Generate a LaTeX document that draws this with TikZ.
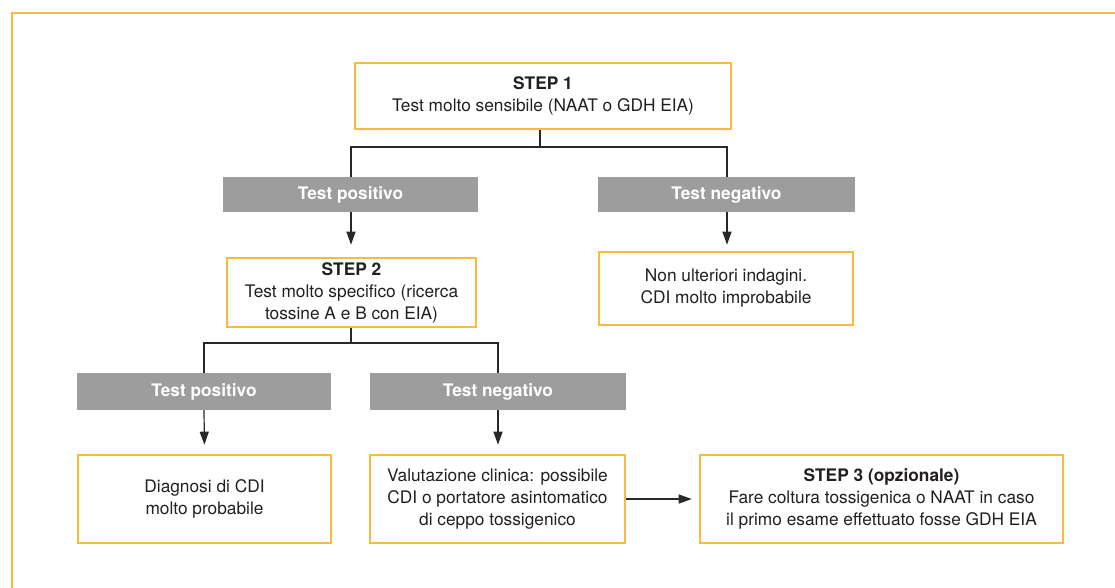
\documentclass[tikz,border=0pt]{standalone}
\usepackage{fontspec}
\setmainfont{TeX Gyre Heros}
\usetikzlibrary{arrows.meta}
\definecolor{orng}{RGB}{251,186,60}
\definecolor{gbox}{RGB}{157,157,157}
\definecolor{txt}{RGB}{35,31,32}
\definecolor{lin}{RGB}{40,40,40}
\tikzset{
  obox/.style={draw=orng, line width=2.6pt, fill=white, text=txt, align=center,
    font=\fontsize{17.3}{22}\selectfont, inner sep=0pt},
  gray/.style={fill=gbox, text=white, align=center,
    font=\fontsize{17.3}{20}\selectfont\bfseries, inner sep=0pt},
  conn/.style={draw=lin, line width=1.2pt},
  arr/.style={conn, -{Triangle[length=13pt,width=9pt]}}
}
\begin{document}
\begin{tikzpicture}[x=1pt,y=-1pt]
\useasboundingbox (0,0) rectangle (1115,587);
\draw[orng, line width=2.6pt] (1115,13) -- (12,13) -- (12,588);
% nodes
\node[obox, minimum width=376pt, minimum height=66pt] (s1) at (543,96) {\textbf{STEP 1}\\Test molto sensibile (NAAT o GDH EIA)};
\node[gray, minimum width=255pt, minimum height=35pt] (g1p) at (350.5,194.5) {Test positivo};
\node[gray, minimum width=257pt, minimum height=35pt] (g1n) at (726.5,194.5) {Test negativo};
\node[obox, minimum width=249pt, minimum height=69pt] (s2) at (351.5,292.5) {\textbf{STEP 2}\\Test molto specifico (ricerca\\tossine A e B con EIA)};
\node[obox, minimum width=254pt, minimum height=73pt] (non) at (726,288.5) {Non ulteriori indagini.\\CDI molto improbabile};
\node[gray, minimum width=254pt, minimum height=37pt] (g2p) at (204,391.5) {Test positivo};
\node[gray, minimum width=256pt, minimum height=37pt] (g2n) at (498,391.5) {Test negativo};
\node[obox, minimum width=253pt, minimum height=88pt] (diag) at (204.5,499) {Diagnosi di CDI\\molto probabile};
\node[obox, minimum width=255pt, minimum height=88pt] (val) at (497.5,499) {Valutazione clinica: possibile\\CDI o portatore asintomatico\\di ceppo tossigenico};
\node[obox, minimum width=363pt, minimum height=88pt] (s3) at (881.5,499) {\textbf{STEP 3 (opzionale)}\\Fare coltura tossigenica o NAAT in caso\\il primo esame effettuato fosse GDH EIA};
% connectors
\coordinate (j1) at (540,147);
\coordinate (j2) at (351,343);
\draw[conn] (s1.south -| j1) -- (j1);
\draw[conn] (g1p.north -| 351,0) |- (j1) -| (g1n.north -| 727,0);
\draw[conn] (s2.south -| j2) -- (j2);
\draw[conn] (g2p.north) |- (j2) -| (g2n.north);
\draw[arr, shorten >=12pt] (g1p.south -| 351,0) -- (s2.north -| 351,0);
\draw[arr, shorten >=6pt] (g1n.south -| 727,0) -- (non.north -| 727,0);
\draw[arr, shorten >=9pt] (g2p.south) -- (diag.north);
\draw[arr, shorten >=9pt] (g2n.south) -- (val.north -| g2n.south);
\draw[arr, shorten >=7pt] (val.east) -- (s3.west);
\end{tikzpicture}
\end{document}
